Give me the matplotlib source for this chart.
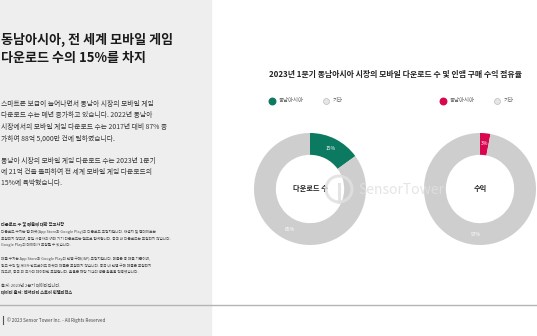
import matplotlib.pyplot as plt
from matplotlib.patches import Rectangle, Circle

plt.rcParams['font.family'] = ['Noto Sans CJK KR', 'DejaVu Sans']

W, H = 537, 336

# data
chart_title = '2023년 1분기 동남아시아 시장의 모바일 다운로드 수 및 인앱 구매 수익 점유율'
legend_labels = ['동남아시아', '기타']
download_share = [15, 85]
revenue_share = [3, 97]
donut_titles = ['다운로드 수', '수익']
highlight_colors = ['#0b7a60', '#d8064f']
other_color = '#cecece'

slide_title = ['동남아시아, 전 세계 모바일 게임', '다운로드 수의 15%를 차지']
para1 = ['스마트폰 보급이 늘어나면서 동남아 시장의 모바일 게임',
         '다운로드 수는 매년 증가하고 있습니다. 2022년 동남아',
         '시장에서의 모바일 게임 다운로드 수는 2017년 대비 87% 증',
         '가하여 88억 5,000만 건에 달하였습니다.']
para2 = ['동남아 시장의 모바일 게임 다운로드 수는 2023년 1분기',
         '에 21억 건을 돌파하여 전 세계 모바일 게임 다운로드의',
         '15%에 육박했습니다.']
notes1 = ['다운로드 수치는 앱 마켓(App Store와 Google Play)의 다운로드 추정치입니다. 재설치 및 업데이트는',
          '포함되지 않으며, 동일 사용자의 여러 기기 다운로드는 별도로 집계됩니다. 중국 내 다운로드는 포함되지 않습니다.',
          'Google Play의 데이터가 포함될 수 있습니다.']
notes2 = ['매출 수치는 App Store와 Google Play의 인앱 구매(IAP) 추정치입니다. 매출은 총 매출 기준이며,',
          '광고 수익 및 제3자 안드로이드 마켓의 매출은 포함되지 않습니다. 중국 내 인앱 구매 매출은 포함되지',
          '않으며, 중국 외 국가의 데이터만 포함됩니다. 환율은 해당 기간의 평균 환율을 적용했습니다.']

fig = plt.figure(figsize=(W / 100, H / 100), dpi=100)
fig.patch.set_facecolor('white')

# background / slide layer in pixel coords
bg = fig.add_axes([0, 0, 1, 1])
bg.set_xlim(0, W)
bg.set_ylim(H, 0)
bg.axis('off')
bg.add_patch(Rectangle((0, 0), 211, H, color='#eeeeee', zorder=0))
bg.plot([0, W], [305, 305], color='#b4b4b4', lw=1.0, zorder=1)

for i, line in enumerate(slide_title):
    bg.text(1, 40 + i * 18, line, fontsize=9.4, fontweight='bold', color='#1a1a1a', va='center')
for i, line in enumerate(para1):
    bg.text(1, 104 + i * 11.4, line, fontsize=4.9, color='#333333', va='center')
for i, line in enumerate(para2):
    bg.text(1, 161 + i * 11.2, line, fontsize=4.9, color='#333333', va='center')

bg.text(1, 224, '다운로드 수 및 매출에 대한 참고사항', fontsize=3, fontweight='bold', color='#222222', va='center')
for i, line in enumerate(notes1):
    bg.text(1, 232 + i * 6.3, line, fontsize=2.7, color='#444444', va='center')
for i, line in enumerate(notes2):
    bg.text(1, 259 + i * 6, line, fontsize=2.7, color='#444444', va='center')
bg.text(1, 285, '출처: 2023년 2분기 데이터입니다.', fontsize=3, color='#444444', va='center')
bg.text(1, 292, '데이터 출처: 센서타워 스토어 인텔리전스', fontsize=3, fontweight='bold', color='#222222', va='center')
bg.plot([2.5, 2.5], [316, 324], color='#555555', lw=0.8)
bg.text(7, 320, '© 2023 Sensor Tower Inc. - All Rights Reserved', fontsize=3.3, color='#444444', va='center')

# chart title
bg.text(395, 74, chart_title, fontsize=5.7, fontweight='bold', color='#222222', ha='center', va='center')

# legends
for (mx, color) in [(272, highlight_colors[0]), (443, highlight_colors[1])]:
    bg.scatter([mx], [101], s=22, color=color, zorder=3)
    bg.text(mx + 7, 101, legend_labels[0], fontsize=3.9, color='#555555', va='center')
    bg.scatter([mx + 54], [101], s=18, facecolor='#e6e6e6', edgecolor='#bbbbbb', lw=0.5, zorder=3)
    bg.text(mx + 61, 101, legend_labels[1], fontsize=3.9, color='#555555', va='center')

# donuts
centers = [(310, 189), (480, 189)]
shares = [download_share, revenue_share]
R = 70
for (cx, cy), vals, col, title in zip(centers, shares, highlight_colors, donut_titles):
    ax = fig.add_axes([(cx - R) / W, (H - cy - R) / H, 2 * R / W, 2 * R / H])
    ax.set_xlim(-1, 1)
    ax.set_ylim(-1, 1)
    ax.axis('off')
    wedges, texts, autotexts = ax.pie(
        vals, colors=[col, other_color], radius=1, startangle=90, counterclock=False,
        wedgeprops=dict(width=0.39, linewidth=0),
        autopct=lambda p: f'{p:.0f}%', pctdistance=0.81,
        textprops=dict(color='white', fontsize=3.6))
    ax.text(0, 0, title, fontsize=5.2, fontweight='bold', color='#222222', ha='center', va='center')

# watermark overlay
ov = fig.add_axes([0, 0, 1, 1])
ov.set_xlim(0, W)
ov.set_ylim(H, 0)
ov.axis('off')
ov.patch.set_alpha(0)
ov.add_patch(Circle((339, 189), 13, fill=False, ec='#e0e0e0', lw=2.2, alpha=0.85))
ov.plot([339, 339], [184, 202], color='#e0e0e0', lw=2.2, alpha=0.85)
ov.text(358, 190, 'SensorTower', fontsize=10, color='#e0e0e0', alpha=0.85, va='center')

fig.savefig('out.png', dpi=100)
